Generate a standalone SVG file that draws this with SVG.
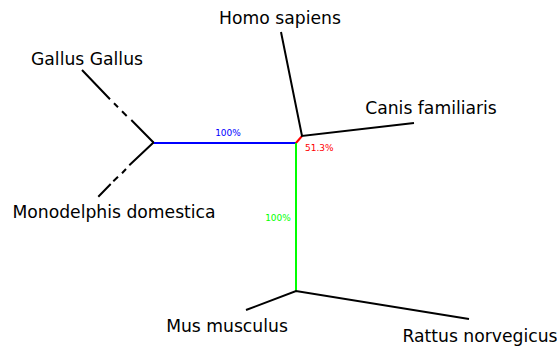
<svg xmlns="http://www.w3.org/2000/svg" width="557" height="347" viewBox="0 0 557 347">
<style>
.lbl{font-family:"DejaVu Sans",sans-serif;font-size:17.2px;fill:#000}
.pct{font-family:"DejaVu Sans",sans-serif;font-size:9px}
.e{stroke:#000;stroke-width:2;fill:none;stroke-linecap:butt}
</style>
<rect width="557" height="347" fill="#fff"/>
<g id="connectors">
<path class="e" d="M154,143 L131.3,120 M126.7,116 L122,111.3 M118,107.3 L114,103.3 M110,99.3 L82,70"/>
<path class="e" d="M154,142 L129.3,165.3 M126,169 L122,173.3 M118,176.7 L113.3,181.3 M110.7,184 L98.3,196.7"/>
<path d="M154,143 H296" stroke="#0000ff" stroke-width="2"/>
<path d="M296,143 L302,136" stroke="#ff0000" stroke-width="2"/>
<path d="M296,143 V291" stroke="#00ff00" stroke-width="2"/>
<path class="e" d="M281,32 L302,136 L414,123"/>
<path class="e" d="M246,310 L296,291 L469,319"/>
<text class="pct" x="228" y="136" text-anchor="middle" fill="#0000ff">100%</text>
<text class="pct" x="305" y="151" fill="#ff0000">51.3%</text>
<text class="pct" x="278" y="221" text-anchor="middle" fill="#00ff00">100%</text>
</g>
<g id="homo"><text class="lbl" x="280" y="24" text-anchor="middle">Homo sapiens</text></g>
<g id="gallus"><text class="lbl" x="87" y="65" text-anchor="middle">Gallus Gallus</text></g>
<g id="canis"><text class="lbl" x="431" y="114" text-anchor="middle">Canis familiaris</text></g>
<g id="monodelphis"><text class="lbl" x="114" y="218" text-anchor="middle">Monodelphis domestica</text></g>
<g id="mus"><text class="lbl" x="227" y="332" text-anchor="middle">Mus musculus</text></g>
<g id="rattus"><text class="lbl" x="480" y="342" text-anchor="middle">Rattus norvegicus</text></g>
</svg>
